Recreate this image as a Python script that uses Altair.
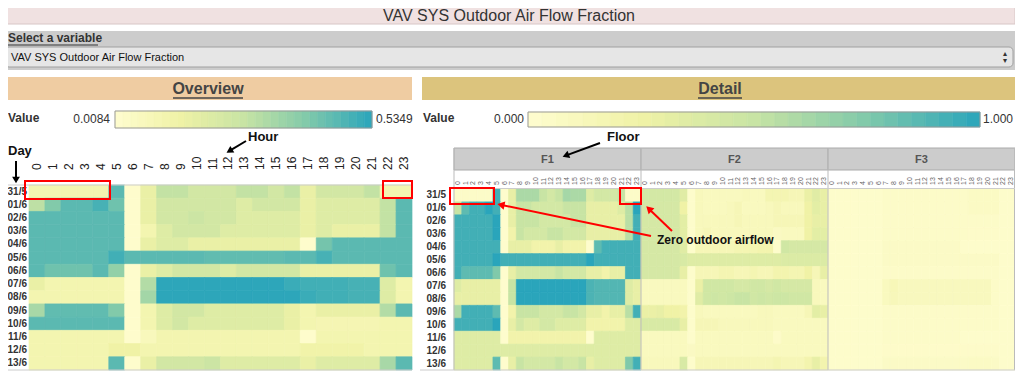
import math
import altair as alt
import pandas as pd
import numpy as np

# ---------------- data ----------------
days = ["31/5", "01/6", "02/6", "03/6", "04/6", "05/6", "06/6",
        "07/6", "08/6", "09/6", "10/6", "11/6", "12/6", "13/6"]
hours = list(range(24))
floors = ["F1", "F2", "F3"]

overview_values = [
    [.11,.11,.11,.11,.11,.46,.02,.16,.28,.28,.24,.24,.24,.28,.28,.24,.28,.16,.24,.24,.24,.28,.11,.11],
    [.29,.40,.46,.46,.49,.43,.02,.16,.24,.24,.24,.24,.24,.20,.24,.24,.24,.16,.20,.20,.20,.20,.28,.46],
    [.46,.46,.46,.46,.46,.46,.02,.16,.24,.24,.26,.24,.24,.20,.20,.20,.20,.16,.20,.20,.20,.20,.28,.46],
    [.46,.46,.46,.46,.46,.46,.02,.11,.20,.24,.24,.24,.20,.20,.20,.20,.20,.16,.20,.16,.16,.16,.28,.46],
    [.46,.46,.46,.46,.46,.46,.02,.16,.20,.20,.16,.16,.16,.16,.16,.16,.16,.02,.42,.46,.46,.46,.46,.46],
    [.46,.46,.46,.46,.46,.50,.46,.46,.46,.46,.46,.45,.45,.45,.45,.45,.46,.46,.49,.46,.46,.46,.46,.46],
    [.46,.43,.43,.43,.46,.37,.02,.16,.20,.24,.24,.24,.20,.24,.24,.24,.24,.16,.16,.16,.16,.16,.43,.46],
    [.16,.11,.11,.11,.11,.11,.02,.31,.53,.53,.53,.53,.53,.53,.53,.53,.51,.50,.50,.50,.49,.49,.20,.11],
    [.11,.11,.11,.11,.11,.11,.02,.34,.53,.53,.53,.53,.53,.53,.53,.53,.53,.51,.50,.50,.49,.49,.20,.11],
    [.33,.45,.45,.45,.45,.40,.02,.11,.20,.24,.24,.20,.20,.20,.20,.20,.16,.11,.16,.16,.16,.16,.31,.46],
    [.46,.46,.46,.46,.46,.46,.02,.11,.20,.24,.20,.20,.20,.20,.20,.20,.16,.11,.10,.10,.10,.10,.11,.11],
    [.11,.11,.11,.11,.11,.11,.02,.07,.11,.11,.11,.11,.11,.11,.11,.11,.11,.02,.11,.11,.11,.11,.11,.11],
    [.11,.11,.11,.11,.11,.14,.14,.11,.11,.11,.11,.11,.11,.11,.11,.11,.11,.13,.13,.13,.13,.11,.11,.11],
    [.11,.11,.11,.11,.11,.46,.02,.16,.24,.24,.24,.26,.20,.20,.20,.20,.20,.16,.20,.20,.20,.20,.33,.46],
]

detail_F1 = [
    [.05,.05,.05,.05,.05,.93,.02,.30,.60,.60,.60,.50,.43,.50,.62,.60,.60,.36,.43,.43,.43,.50,.05,.05],
    [.50,.85,.93,.93,1.0,.93,.02,.30,.50,.50,.43,.43,.43,.43,.50,.50,.50,.30,.30,.30,.30,.36,.55,1.0],
    [.93,.93,.93,.93,.93,1.0,.02,.30,.50,.50,.50,.43,.43,.43,.43,.50,.50,.30,.30,.30,.30,.30,.55,.93],
    [.93,.93,.93,.93,.93,1.0,.02,.22,.50,.43,.43,.43,.50,.50,.43,.43,.43,.30,.30,.30,.30,.30,.55,.93],
    [.93,.93,.93,.93,.93,.93,.02,.30,.30,.30,.22,.22,.22,.30,.22,.22,.22,.02,.85,.93,.93,.93,.93,.93],
    [.93,.93,.93,.93,.93,1.0,.93,.93,.93,.93,.93,.93,.93,.93,.93,.93,.93,1.0,.93,.93,.93,.93,.93,.93],
    [.93,.85,.85,.85,.85,.75,.02,.30,.43,.43,.43,.43,.43,.50,.43,.43,.43,.30,.30,.22,.30,.30,.93,.93],
    [.36,.30,.30,.30,.30,.30,.02,.50,1.0,1.0,1.0,1.0,1.0,1.0,1.0,1.0,1.0,.90,.88,.88,.88,.88,.36,.30],
    [.30,.30,.30,.30,.30,.30,.02,.50,1.0,1.0,1.0,1.0,1.0,1.0,1.0,1.0,1.0,.90,.88,.88,.88,.88,.36,.30],
    [.60,.93,.93,.93,.93,.85,.02,.22,.50,.50,.50,.43,.43,.43,.50,.50,.43,.30,.30,.22,.30,.30,.55,.93],
    [.93,.93,.93,.93,.93,1.0,.02,.30,.43,.36,.36,.43,.43,.36,.36,.36,.36,.22,.22,.22,.22,.22,.36,.36],
    [.36,.36,.36,.36,.36,.36,.02,.22,.22,.22,.22,.22,.22,.22,.22,.22,.22,.02,.36,.36,.36,.36,.36,.36],
    [.36,.36,.36,.36,.36,.36,.36,.36,.36,.36,.36,.36,.36,.36,.36,.36,.36,.36,.36,.36,.36,.36,.36,.36],
    [.36,.36,.36,.36,.36,.85,.02,.30,.50,.43,.43,.43,.43,.50,.43,.43,.50,.30,.36,.36,.36,.36,.75,.93],
]

detail_F2 = [
    [.43,.43,.43,.43,.43,.35,.03,.12,.10,.10,.10,.10,.10,.12,.10,.10,.18,.18,.18,.15,.15,.28,.35,.30],
    [.42,.42,.42,.42,.42,.25,.03,.12,.10,.10,.10,.12,.15,.10,.10,.10,.12,.15,.12,.12,.12,.25,.33,.30],
    [.42,.42,.42,.42,.42,.33,.03,.12,.12,.12,.12,.12,.15,.12,.12,.12,.12,.15,.15,.15,.15,.25,.30,.30],
    [.42,.42,.42,.42,.42,.33,.03,.12,.15,.12,.12,.12,.12,.12,.12,.12,.12,.08,.10,.10,.10,.25,.33,.33],
    [.42,.42,.42,.42,.42,.35,.03,.15,.15,.15,.15,.15,.18,.18,.18,.20,.20,.03,.45,.42,.42,.42,.42,.42],
    [.42,.42,.42,.42,.42,.40,.36,.36,.36,.36,.36,.36,.36,.36,.36,.36,.36,.36,.38,.38,.38,.38,.38,.38],
    [.42,.42,.42,.42,.42,.30,.03,.15,.15,.15,.18,.18,.15,.15,.18,.15,.15,.20,.20,.18,.18,.25,.15,.30],
    [.10,.10,.10,.10,.10,.10,.03,.28,.45,.45,.45,.45,.42,.42,.45,.45,.42,.45,.42,.42,.42,.42,.12,.10],
    [.10,.10,.10,.10,.10,.10,.03,.35,.45,.47,.45,.47,.50,.50,.45,.47,.45,.47,.47,.45,.45,.45,.12,.10],
    [.28,.28,.30,.25,.25,.22,.03,.12,.10,.10,.10,.10,.10,.10,.10,.12,.12,.10,.10,.10,.10,.15,.33,.30],
    [.40,.40,.40,.40,.40,.30,.03,.15,.15,.15,.12,.12,.12,.12,.12,.12,.12,.10,.10,.10,.10,.10,.10,.10],
    [.10,.10,.10,.10,.10,.10,.03,.10,.10,.10,.10,.10,.10,.10,.10,.10,.10,.04,.10,.10,.10,.10,.10,.10],
    [.10,.10,.10,.10,.10,.10,.08,.10,.10,.10,.10,.10,.10,.10,.10,.10,.10,.10,.10,.10,.10,.10,.10,.10],
    [.12,.12,.12,.12,.12,.40,.03,.15,.15,.15,.15,.15,.15,.15,.15,.15,.15,.18,.15,.15,.15,.20,.30,.20],
]

detail_F3 = [
    [.03,.03,.03,.03,.03,.03,.03,.05,.05,.05,.05,.05,.05,.05,.05,.05,.05,.05,.07,.07,.07,.07,.03,.03],
    [.03,.03,.03,.03,.03,.03,.03,.05,.05,.05,.05,.05,.05,.05,.05,.05,.05,.05,.07,.07,.07,.07,.03,.03],
    [.03,.03,.03,.03,.03,.03,.03,.05,.05,.05,.05,.05,.05,.05,.05,.05,.05,.05,.05,.05,.05,.05,.03,.03],
    [.03,.03,.03,.03,.03,.03,.03,.05,.05,.05,.05,.05,.05,.05,.05,.05,.05,.05,.04,.04,.04,.04,.03,.03],
    [.03,.03,.03,.03,.03,.03,.03,.06,.06,.06,.06,.06,.06,.06,.06,.06,.06,.03,.03,.03,.03,.03,.03,.03],
    [.03,.03,.03,.03,.03,.03,.03,.06,.06,.06,.06,.06,.06,.06,.06,.06,.06,.06,.06,.06,.06,.06,.03,.03],
    [.03,.03,.03,.03,.03,.03,.03,.05,.05,.05,.05,.05,.05,.05,.05,.05,.05,.05,.05,.05,.05,.05,.03,.03],
    [.03,.03,.03,.03,.03,.03,.03,.10,.14,.11,.11,.11,.11,.11,.11,.11,.11,.11,.11,.11,.11,.05,.03,.03],
    [.03,.03,.03,.03,.03,.03,.03,.10,.13,.11,.11,.11,.11,.11,.11,.11,.11,.11,.11,.11,.11,.05,.03,.03],
    [.03,.03,.03,.03,.03,.03,.03,.05,.05,.05,.05,.05,.05,.05,.05,.05,.05,.05,.05,.05,.05,.05,.03,.03],
    [.03,.03,.03,.03,.03,.03,.03,.05,.05,.05,.05,.05,.05,.05,.05,.05,.05,.05,.05,.05,.05,.05,.03,.03],
    [.03,.03,.03,.03,.03,.03,.03,.05,.05,.05,.05,.05,.05,.05,.05,.05,.05,.03,.03,.03,.03,.03,.03,.03],
    [.03,.03,.03,.03,.03,.03,.03,.04,.04,.04,.04,.04,.04,.04,.04,.04,.04,.04,.04,.04,.04,.04,.03,.03],
    [.03,.03,.03,.03,.03,.03,.03,.06,.06,.06,.06,.06,.06,.06,.06,.06,.06,.06,.07,.07,.07,.06,.03,.03],
]

overview_extent = [0.0084, 0.5349]
detail_extent = [0.0, 1.0]
overview_labels = ["0.0084", "0.5349"]
detail_labels = ["0.000", "1.000"]
ramp_colors = ["#fffdd0", "#f0f2a6", "#c8e4a4", "#80c9aa", "#2aa5bb"]

# ---------------- tables ----------------
ov_df = pd.DataFrame([{"day": d, "hour": h, "value": overview_values[i][h]}
                      for i, d in enumerate(days) for h in hours])
detail_sets = {"F1": detail_F1, "F2": detail_F2, "F3": detail_F3}
cols = [f"{f}_{h}" for f in floors for h in hours]
det_df = pd.DataFrame([{"floor": f, "hour": h, "col": f"{f}_{h}", "day": d,
                        "value": detail_sets[f][i][h]}
                       for f in floors for i, d in enumerate(days) for h in hours])
hour_df = pd.DataFrame({"hour": hours})
det_hour_df = pd.DataFrame({"col": cols, "label": [str(h) for f in floors for h in hours]})
day_df = pd.DataFrame({"day": days})
floor_df = pd.DataFrame({"floor": floors})
one = pd.DataFrame({"k": [0]})

FONT = "Liberation Sans, Arial, Helvetica, sans-serif"
W, H = 1007, 364


def X(px):
    return px - 8


def Y(py):
    return py - 8


def stops(ext):
    return list(np.linspace(ext[0], ext[1], len(ramp_colors)))


ov_color = alt.Scale(domain=stops(overview_extent), range=ramp_colors, interpolate="rgb")
det_color = alt.Scale(domain=stops(detail_extent), range=ramp_colors, interpolate="rgb")

ov_x = alt.Scale(domain=hours, range=[X(29), X(412)], paddingInner=0, paddingOuter=0)
ov_y = alt.Scale(domain=days, range=[Y(185), Y(370)], paddingInner=0, paddingOuter=0)
det_x = alt.Scale(domain=cols, range=[X(454), X(1015)], paddingInner=0, paddingOuter=0)
det_y = alt.Scale(domain=days, range=[Y(189), Y(370)], paddingInner=0, paddingOuter=0)
floor_x = alt.Scale(domain=floors, range=[X(454), X(1015)], paddingInner=0, paddingOuter=0)

layers = []


def box(x1, y1, x2, y2, fill="transparent", stroke=None, sw=1, radius=0):
    kw = dict(fill=fill, strokeWidth=sw, cornerRadius=radius)
    if stroke:
        kw["stroke"] = stroke
    else:
        kw["strokeWidth"] = 0
    return alt.Chart(one).mark_rect(**kw).encode(
        x=alt.value(X(x1)), x2=alt.value(X(x2)), y=alt.value(Y(y1)), y2=alt.value(Y(y2)))


def line(x1, y1, x2, y2, color="#bbbbbb", sw=1):
    return alt.Chart(one).mark_rule(color=color, strokeWidth=sw).encode(
        x=alt.value(X(x1)), x2=alt.value(X(x2)), y=alt.value(Y(y1)), y2=alt.value(Y(y2)))


def label(s, x, y, size=12, weight="normal", align="left", color="#333333"):
    return alt.Chart(one).mark_text(text=s, fontSize=size, fontWeight=weight, align=align,
                                    baseline="middle", color=color, font=FONT).encode(
        x=alt.value(max(X(x), 0)), y=alt.value(Y(y)))


def arrow(x0, y0, x1, y1, color="black", sw=2, head=70):
    dx, dy = x1 - x0, y1 - y0
    L = math.hypot(dx, dy)
    ux, uy = dx / L, dy / L
    ang = math.degrees(math.atan2(ux, -uy)) % 360
    shaft = line(x0, y0, x1 - ux * 6, y1 - uy * 6, color=color, sw=sw)
    tip = alt.Chart(one).mark_point(shape="triangle-up", filled=True, size=head, angle=ang,
                                    color=color, opacity=1).encode(
        x=alt.value(X(x1 - ux * 4)), y=alt.value(Y(y1 - uy * 4)))
    return [shaft, tip]


# ---------------- header ----------------
layers.append(box(3, 7, 1015, 24, fill="#f0e1e1", stroke="#d8c6c6"))
layers.append(label("VAV SYS Outdoor Air Flow Fraction", 509, 16, size=16, align="center", color="#333333"))
layers.append(box(3, 31, 1015, 70, fill="#cccccc"))
layers.append(label("Select a variable", 3, 38, size=12, weight="bold", color="#333333"))
layers.append(line(8, 45, 98, 45, color="#333333", sw=1))
layers.append(box(5, 47, 1013, 67, fill="#e6e6e6", stroke="#a0a0a0", radius=4))
layers.append(label("VAV SYS Outdoor Air Flow Fraction", 11, 57.5, size=11, color="#111111"))
layers.append(label("\u25B4", 1005, 54, size=8, align="center", color="#333333"))
layers.append(label("\u25BE", 1005, 61, size=8, align="center", color="#333333"))

# ---------------- banners ----------------
layers.append(box(2, 77, 412, 100, fill="#efcca2"))
layers.append(label("Overview", 208, 89, size=16, weight="bold", align="center", color="#444444"))
layers.append(line(173, 98, 243, 98, color="#444444", sw=1.5))
layers.append(box(422, 77, 1015, 100, fill="#dcc47d"))
layers.append(label("Detail", 720, 89, size=16, weight="bold", align="center", color="#444444"))
layers.append(line(698, 98, 742, 98, color="#444444", sw=1.5))


# ---------------- legends ----------------
def ramp(ext, x1, x2, y1, y2, cscale, n=33):
    edges = np.linspace(ext[0], ext[1], n + 1)
    df = pd.DataFrame({"lo": edges[:-1], "hi": edges[1:], "v": (edges[:-1] + edges[1:]) / 2})
    xs = alt.Scale(domain=ext, range=[X(x1), X(x2)], nice=False, zero=False)
    return alt.Chart(df).mark_rect(strokeWidth=0.6).encode(
        x=alt.X("lo:Q", scale=xs, axis=None), x2="hi:Q",
        y=alt.value(Y(y1)), y2=alt.value(Y(y2)),
        color=alt.Color("v:Q", scale=cscale, legend=None),
        stroke=alt.Stroke("v:Q", scale=cscale, legend=None))


layers.append(label("Value", 3, 118, size=12, weight="bold"))
layers.append(ramp(overview_extent, 115, 372, 111, 128, ov_color))
layers.append(box(115, 111, 372, 128, stroke="#999999"))
layers.append(label(overview_labels[0], 110, 119, size=12, align="right"))
layers.append(label(overview_labels[1], 376, 119, size=12))

layers.append(label("Value", 423, 118, size=12, weight="bold"))
layers.append(ramp(detail_extent, 528, 980, 112, 127, det_color))
layers.append(box(528, 112, 980, 127, stroke="#999999"))
layers.append(label(detail_labels[0], 524, 119, size=12, align="right"))
layers.append(label(detail_labels[1], 983, 119, size=12))

# ---------------- overview heatmap ----------------
layers.append(alt.Chart(ov_df).mark_rect(strokeWidth=0.7).encode(
    x=alt.X("hour:O", scale=ov_x, axis=None),
    y=alt.Y("day:O", scale=ov_y, axis=None),
    color=alt.Color("value:Q", scale=ov_color, legend=None),
    stroke=alt.Stroke("value:Q", scale=ov_color, legend=None)))
layers.append(alt.Chart(hour_df).mark_text(angle=270, align="left", baseline="middle",
                                           fontSize=12, color="#222222", font=FONT).encode(
    x=alt.X("hour:O", scale=ov_x, axis=None), y=alt.value(Y(170)), text="hour:O"))
layers.append(alt.Chart(day_df).mark_text(align="right", baseline="middle", fontSize=10,
                                          fontWeight="bold", color="#333333", font=FONT).encode(
    y=alt.Y("day:O", scale=ov_y, axis=None), x=alt.value(X(27)), text="day:N"))
layers.append(line(8, 185, 412, 185, color="#cccccc"))
layers.append(line(8, 370, 412, 370, color="#cccccc"))

# ---------------- detail heatmap ----------------
layers.append(alt.Chart(floor_df).mark_rect(fill="#cccccc", stroke="#aaaaaa", strokeWidth=1).encode(
    x=alt.X("floor:N", scale=floor_x, axis=None), y=alt.value(Y(148)), y2=alt.value(Y(170))))
layers.append(alt.Chart(floor_df).mark_text(fontSize=11, fontWeight="bold", color="#555555",
                                            baseline="middle", font=FONT).encode(
    x=alt.X("floor:N", scale=floor_x, axis=None), y=alt.value(Y(160)), text="floor:N"))
layers.append(alt.Chart(det_df).mark_rect(strokeWidth=0.7).encode(
    x=alt.X("col:O", scale=det_x, axis=None),
    y=alt.Y("day:O", scale=det_y, axis=None),
    color=alt.Color("value:Q", scale=det_color, legend=None),
    stroke=alt.Stroke("value:Q", scale=det_color, legend=None)))
layers.append(alt.Chart(det_hour_df).mark_text(angle=270, align="left", baseline="middle",
                                               fontSize=7, color="#666666", font=FONT).encode(
    x=alt.X("col:O", scale=det_x, axis=None), y=alt.value(Y(185)), text="label:N"))
layers.append(alt.Chart(day_df).mark_text(align="right", baseline="middle", fontSize=10,
                                          fontWeight="bold", color="#333333", font=FONT).encode(
    y=alt.Y("day:O", scale=det_y, axis=None), x=alt.value(X(446)), text="day:N"))
for vx in [454, 641, 828, 1014.5]:
    layers.append(line(vx, 148, vx, 370, color="#bbbbbb"))
layers.append(line(454, 188.5, 1015, 188.5, color="#cccccc"))
layers.append(line(420, 370, 1015, 370, color="#cccccc"))

# ---------------- annotations ----------------
layers.append(label("Day", 4, 151, size=13, weight="bold", color="#111111"))
layers += arrow(16, 161, 16, 184, color="black", sw=2, head=60)
layers.append(label("Hour", 248, 137, size=13, weight="bold", color="#111111"))
layers += arrow(246, 141, 226, 153, color="black", sw=2, head=60)
layers.append(label("Floor", 607, 137, size=13, weight="bold", color="#111111"))
layers += arrow(600, 143, 562, 157, color="black", sw=2, head=60)

layers.append(box(25, 181, 110, 199, stroke="#ff0000", sw=2))
layers.append(box(383, 181, 412, 198, stroke="#ff0000", sw=2))
layers.append(box(450, 188, 494, 204, stroke="#ff0000", sw=2))
layers.append(box(620, 188, 641, 204, stroke="#ff0000", sw=2))
layers.append(label("Zero outdoor airflow", 657, 240, size=12, weight="bold", color="#111111"))
layers += arrow(651, 236, 497, 204, color="#ff0000", sw=2, head=70)
layers += arrow(672, 231, 646, 206, color="#ff0000", sw=2, head=70)

chart = alt.layer(*layers).resolve_scale(
    x="independent", y="independent", color="independent", stroke="independent"
).properties(
    width=W, height=H, padding=0, autosize=alt.AutoSizeParams(type="none"),
    background="white"
).configure_view(stroke=None)

chart.save("out.html", embed_options={"renderer": "svg", "actions": False})
